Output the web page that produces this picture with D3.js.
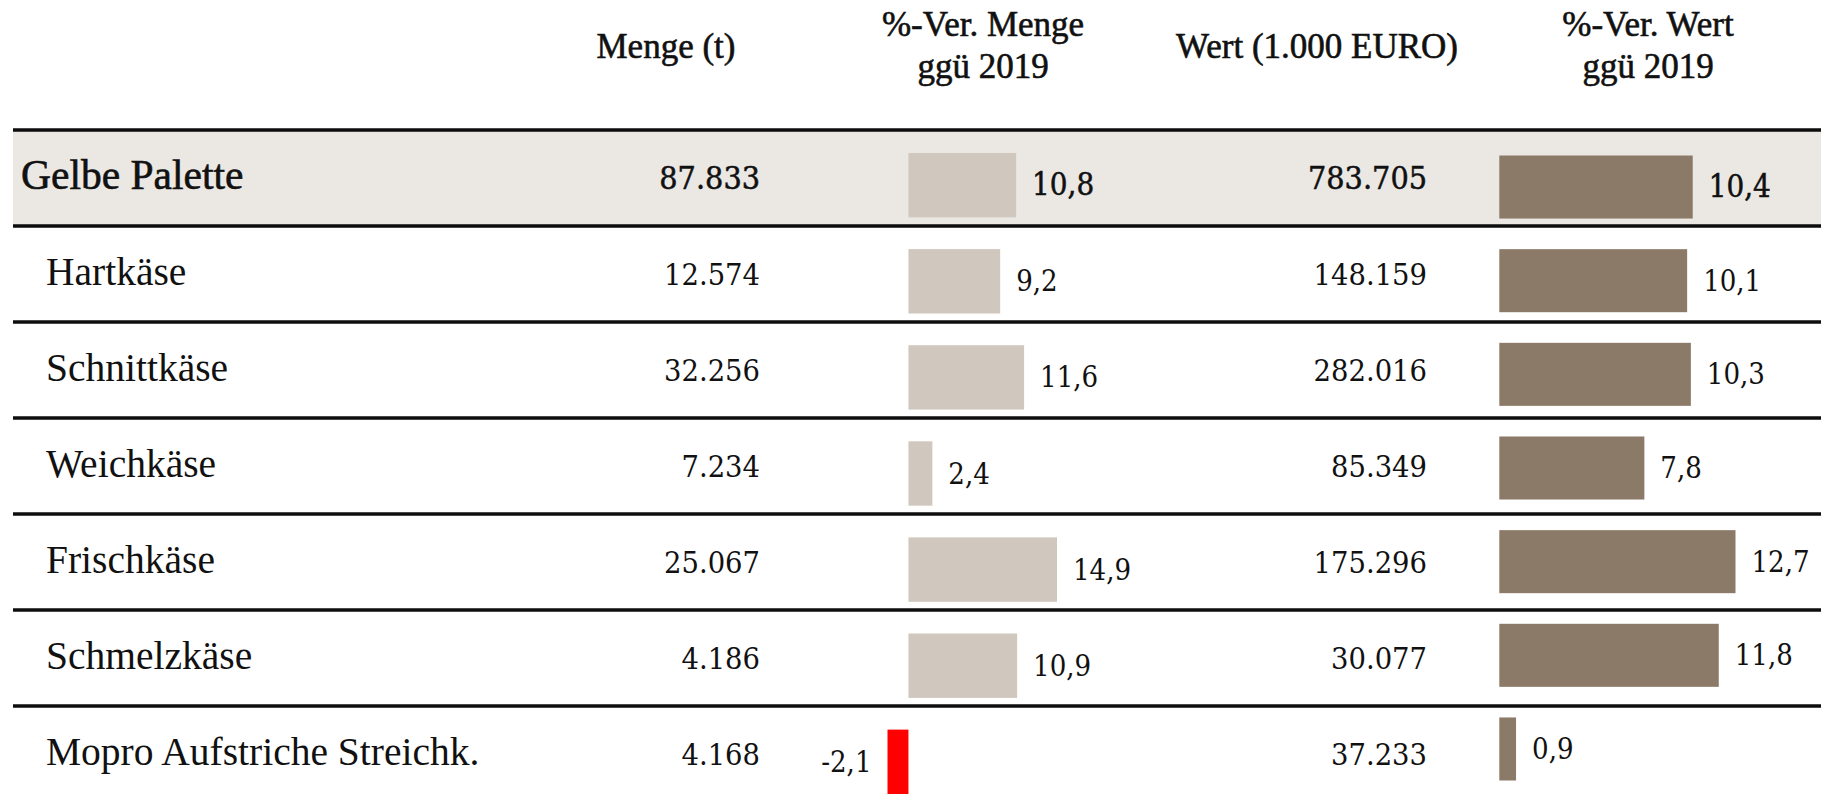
<!DOCTYPE html>
<html>
<head>
<meta charset="utf-8">
<script src="https://cdn.jsdelivr.net/npm/d3@7"></script>
<style>
  body { margin: 0; background: #fff; }
  .label { font-family: "Liberation Serif", serif; fill: #111; }
  .num { font-family: "DejaVu Serif Condensed", "DejaVu Serif", serif; fill: #111; }
</style>
</head>
<body>
<svg id="table"></svg>
<script>
// Data
const categories = ["Gelbe Palette", "Hartkäse", "Schnittkäse", "Weichkäse", "Frischkäse", "Schmelzkäse", "Mopro Aufstriche Streichk."];
const mengeValues = [87833, 12574, 32256, 7234, 25067, 4186, 4168];
const mengeChange = [10.8, 9.2, 11.6, 2.4, 14.9, 10.9, -2.1];
const wertValues = [783705, 148159, 282016, 85349, 175296, 30077, 37233];
const wertChange = [10.4, 10.1, 10.3, 7.8, 12.7, 11.8, 0.9];
const headers = [
  { lines: ["Menge (t)"], x: 666 },
  { lines: ["%-Ver. Menge", "ggü 2019"], x: 983 },
  { lines: ["Wert (1.000 EURO)"], x: 1317 },
  { lines: ["%-Ver. Wert", "ggü 2019"], x: 1648 }
];

const rows = categories.map((c, i) => ({
  name: c,
  menge: mengeValues[i],
  mengeChg: mengeChange[i],
  wert: wertValues[i],
  wertChg: wertChange[i],
  total: i === 0
}));

const width = 1821;
const height = 799;

const de = d3.formatLocale({ decimal: ",", thousands: ".", grouping: [3], currency: ["", " €"], minus: "-" });
const fmtInt = de.format(",d");
const fmtPct = de.format(",.1f");

const svg = d3.select("#table")
    .attr("width", width)
    .attr("height", height);

// Row scale for the table body
const rowY = d3.scaleBand()
    .domain(categories)
    .range([130, 130 + 7 * 96]);

// Bar scales (each bar column has its own band layout)
const mengeBand = d3.scaleBand()
    .domain(categories)
    .range([153, 794])
    .paddingInner(0.33);

const wertBand = d3.scaleBand()
    .domain(categories)
    .range([155.5, 780.5])
    .paddingInner(0.327);

const xMenge = d3.scaleLinear()
    .domain([-2.1, 14.9])
    .range([887.5, 1057]);

const xWert = d3.scaleLinear()
    .domain([0, 12.7])
    .range([1499.3, 1735.5]);

// Background of total row
svg.append("rect")
    .attr("x", 13)
    .attr("y", rowY("Gelbe Palette"))
    .attr("width", width - 13)
    .attr("height", rowY.bandwidth())
    .attr("fill", "#ebe8e4");

// Header texts
headers.forEach(h => {
  const t = svg.append("text")
      .attr("class", "label")
      .attr("text-anchor", "middle")
      .attr("font-size", 35)
      .attr("stroke", "#111")
      .attr("stroke-width", 0.6);
  const y0 = h.lines.length === 1 ? 58 : 36;
  h.lines.forEach((l, i) => {
    t.append("tspan")
        .attr("x", h.x)
        .attr("y", y0 + i * 42)
        .text(l);
  });
});

// Row lines
svg.selectAll(".rowline")
    .data(categories)
    .enter()
    .append("line")
    .attr("class", "rowline")
    .attr("x1", 13)
    .attr("x2", width)
    .attr("y1", d => rowY(d))
    .attr("y2", d => rowY(d))
    .attr("stroke", "#0d0d0d")
    .attr("stroke-width", 3.5);

// Category labels
svg.selectAll(".cat")
    .data(rows)
    .enter()
    .append("text")
    .attr("class", "label cat")
    .attr("x", d => d.total ? 21 : 46)
    .attr("y", d => rowY(d.name) + 59)
    .attr("font-size", d => d.total ? 41.5 : 39.5)
    .attr("stroke", d => d.total ? "#111" : "none")
    .attr("stroke-width", 0.6)
    .text(d => d.name);

// Menge values
svg.selectAll(".menge")
    .data(rows)
    .enter()
    .append("text")
    .attr("class", "num menge")
    .attr("x", 760)
    .attr("y", d => rowY(d.name) + 59)
    .attr("text-anchor", "end")
    .attr("font-size", d => d.total ? 32 : 30.5)
    .attr("stroke", d => d.total ? "#111" : "none")
    .attr("stroke-width", 0.5)
    .text(d => fmtInt(d.menge));

// Wert values
svg.selectAll(".wert")
    .data(rows)
    .enter()
    .append("text")
    .attr("class", "num wert")
    .attr("x", 1427)
    .attr("y", d => rowY(d.name) + 59)
    .attr("text-anchor", "end")
    .attr("font-size", d => d.total ? 32 : 30.5)
    .attr("stroke", d => d.total ? "#111" : "none")
    .attr("stroke-width", 0.5)
    .text(d => fmtInt(d.wert));

// Menge change bars
svg.selectAll(".bar-menge")
    .data(rows)
    .enter()
    .append("rect")
    .attr("class", "bar-menge")
    .attr("x", d => xMenge(Math.min(0, d.mengeChg)))
    .attr("y", d => mengeBand(d.name))
    .attr("width", d => Math.abs(xMenge(d.mengeChg) - xMenge(0)))
    .attr("height", mengeBand.bandwidth())
    .attr("fill", d => d.mengeChg < 0 ? "#ff0000" : "#d0c7be");

svg.selectAll(".lbl-menge")
    .data(rows)
    .enter()
    .append("text")
    .attr("class", "num lbl-menge")
    .attr("x", d => d.mengeChg < 0 ? xMenge(d.mengeChg) - 16 : xMenge(d.mengeChg) + 16)
    .attr("y", d => mengeBand(d.name) + mengeBand.bandwidth() / 2 + 10)
    .attr("text-anchor", d => d.mengeChg < 0 ? "end" : "start")
    .attr("font-size", d => d.total ? 31 : 29)
    .attr("stroke", d => d.total ? "#111" : "none")
    .attr("stroke-width", 0.5)
    .text(d => fmtPct(d.mengeChg));

// Wert change bars
svg.selectAll(".bar-wert")
    .data(rows)
    .enter()
    .append("rect")
    .attr("class", "bar-wert")
    .attr("x", d => xWert(Math.min(0, d.wertChg)))
    .attr("y", d => wertBand(d.name))
    .attr("width", d => Math.abs(xWert(d.wertChg) - xWert(0)))
    .attr("height", wertBand.bandwidth())
    .attr("fill", d => d.wertChg < 0 ? "#ff0000" : "#8c7a68");

svg.selectAll(".lbl-wert")
    .data(rows)
    .enter()
    .append("text")
    .attr("class", "num lbl-wert")
    .attr("x", d => d.wertChg < 0 ? xWert(d.wertChg) - 16 : xWert(d.wertChg) + 16)
    .attr("y", d => wertBand(d.name) + wertBand.bandwidth() / 2 + 10)
    .attr("text-anchor", d => d.wertChg < 0 ? "end" : "start")
    .attr("font-size", d => d.total ? 31 : 29)
    .attr("stroke", d => d.total ? "#111" : "none")
    .attr("stroke-width", 0.5)
    .text(d => fmtPct(d.wertChg));
</script>
</body>
</html>
